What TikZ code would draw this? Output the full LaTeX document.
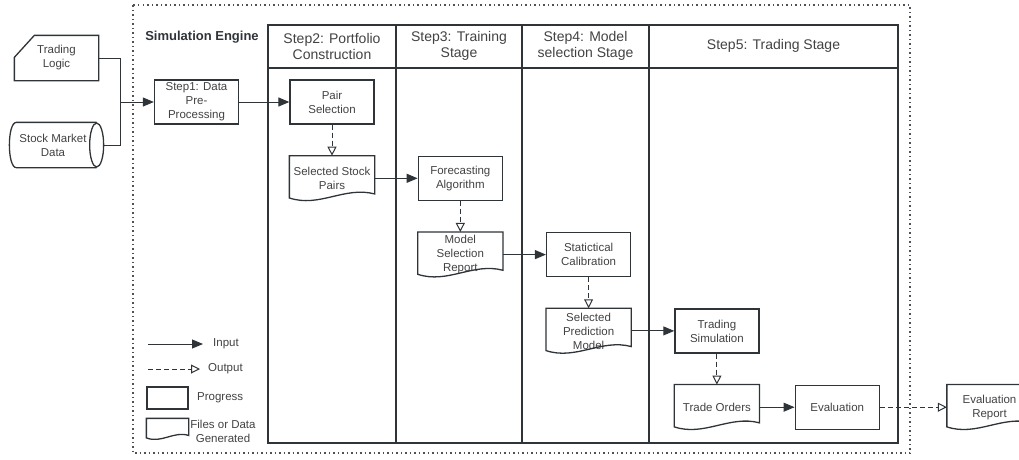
\documentclass[tikz,border=0pt]{standalone}
\usepackage{fontspec}
\setmainfont{Liberation Sans}
\usetikzlibrary{arrows.meta,positioning,calc}

\definecolor{linegray}{HTML}{2F3439}
\definecolor{textgray}{HTML}{424242}

% outline of a "document" node: straight top and sides, wavy bottom
\newcommand{\docoutline}[2][1]{%
  \draw[boxline] ($(#2.south east)+#1*(0,-7)$) -- (#2.north east) -- (#2.north west)
    -- ($(#2.south west)+#1*(0,-3)$)
    .. controls ($(#2.south west)!0.35!(#2.south east)+#1*(0,7)$)
    and ($(#2.south west)!0.65!(#2.south east)+#1*(0,-15)$) .. cycle;}

\begin{document}
\begin{tikzpicture}[x=1pt,y=-1pt,
    boxline/.style={draw=linegray,line width=1.3pt},
    proc/.style={boxline,rectangle,minimum width=84pt,minimum height=44pt,align=center,
      inner sep=1pt,text=textgray,font=\fontsize{11.5}{14}\selectfont},
    docbox/.style={proc,draw=none},
    inarrow/.style={draw=linegray,line width=1pt,-{Triangle[length=11pt,width=9pt]}},
    outarrow/.style={draw=linegray,line width=1pt,dash pattern=on 5pt off 3pt,
      -{Triangle[open,length=9pt,width=9pt]}},
    lanehead/.style={align=center,text=textgray,font=\fontsize{14}{16}\selectfont},
    legendtext/.style={text=textgray,font=\fontsize{11.5}{14}\selectfont,inner sep=0pt},
    node distance=31pt and 43pt]
  \useasboundingbox (0,0) rectangle (1019,459);

  % simulation engine frame
  \draw[linegray!85,line width=1.5pt,dash pattern=on 1.5pt off 3pt] (133,5) rectangle (910,453);
  \node[font=\bfseries\fontsize{13}{15}\selectfont,text=linegray] (engine) at (202,37) {Simulation Engine};

  % swim lanes
  \draw[boxline,line width=1.6pt] (268,25) rectangle (898,443);
  \draw[boxline,line width=1.6pt] (268,68) -- (898,68);
  \foreach \x in {396,522,649} \draw[boxline,line width=1.6pt] (\x,25) -- (\x,443);
  \node[lanehead] (h2) at (332,46) {Step2: Portfolio\\Construction};
  \node[lanehead] (h3) at (459,46) {Step3: Training\\Stage};
  \node[lanehead] (h4) at (585.5,46) {Step4: Model\\selection Stage};
  \node[lanehead] (h5) at (773.5,46) {Step5: Trading Stage};

  % inputs
  \node[docbox,minimum width=83pt] (logic) at (56.5,58) {Trading\\Logic};
  \draw[boxline] ([xshift=20pt]logic.north west) -- (logic.north east) -- (logic.south east)
    -- (logic.south west) -- ([yshift=-22pt]logic.north west) -- cycle;
  \node[docbox,minimum width=86pt] (market) at (53,145) {Stock Market\\Data};
  \draw[boxline] (market.north east) -- ([xshift=7pt]market.north west)
    .. controls +(-9.3,0) and +(-9.3,0) .. ([xshift=7pt]market.south west) -- (market.south east);
  \draw[boxline] (market.east) ellipse [x radius=7,y radius=22];
  \coordinate (join) at (120,102);
  \draw[linegray,line width=1pt] (logic.east) -| (join);
  \draw[linegray,line width=1pt] ([xshift=7pt]market.east) -| (join);
  \node[proc] (step1) at (196.5,102) {Step1: Data\\Pre-\\Processing};
  \draw[inarrow] (join) -- (step1);

  % stages
  \node[proc] (pairsel) at (332,102) {Pair\\Selection};
  \node[docbox,below=of pairsel] (pairs) {Selected Stock\\Pairs};
  \node[proc,right=of pairs] (forecast) {Forecasting\\Algorithm};
  \node[docbox,below=of forecast] (report) {Model\\Selection\\Report};
  \node[proc,right=of report] (calib) {Statictical\\Calibration};
  \node[docbox,below=of calib] (predmodel) {Selected\\Prediction\\Model};
  \node[proc,right=of predmodel] (tradesim) {Trading\\Simulation};
  \node[docbox,below=of tradesim] (orders) {Trade Orders};
  \node[proc,right=35pt of orders] (evaluation) {Evaluation};
  \node[docbox,right=67pt of evaluation] (evalreport) {Evaluation\\Report};
  \foreach \d in {pairs,report,predmodel,orders,evalreport} {\docoutline{\d}}

  \draw[inarrow] (step1) -- (pairsel);
  \draw[outarrow] (pairsel) -- (pairs);
  \draw[inarrow] (pairs) -- (forecast);
  \draw[outarrow] (forecast) -- (report);
  \draw[inarrow] (report) -- (calib);
  \draw[outarrow] (calib) -- (predmodel);
  \draw[inarrow] (predmodel) -- (tradesim);
  \draw[outarrow] (tradesim) -- (orders);
  \draw[inarrow] (orders) -- (evaluation);
  \draw[outarrow] (evaluation) -- (evalreport);

  % legend
  \coordinate (inS) at (148,344);
  \coordinate (inE) at (203,344);
  \node[legendtext,anchor=west] (inlbl) at (213,344) {Input};
  \draw[inarrow] (inS) -- (inE);
  \coordinate (outS) at (148,369);
  \coordinate (outE) at (200,369);
  \node[legendtext,anchor=west] (outlbl) at (208,369) {Output};
  \draw[outarrow] (outS) -- (outE);
  \node[proc,minimum width=41pt,minimum height=22pt] (legproc) at (167.5,398) {};
  \node[legendtext,anchor=west] (proclbl) at (197,398) {Progress};
  \node[docbox,minimum width=41pt,minimum height=20pt] (legdoc) at (167.5,429) {};
  \docoutline[0.6]{legdoc}
  \node[legendtext,align=center] (doclbl) at (223,431) {Files or Data\\Generated};
\end{tikzpicture}
\end{document}
